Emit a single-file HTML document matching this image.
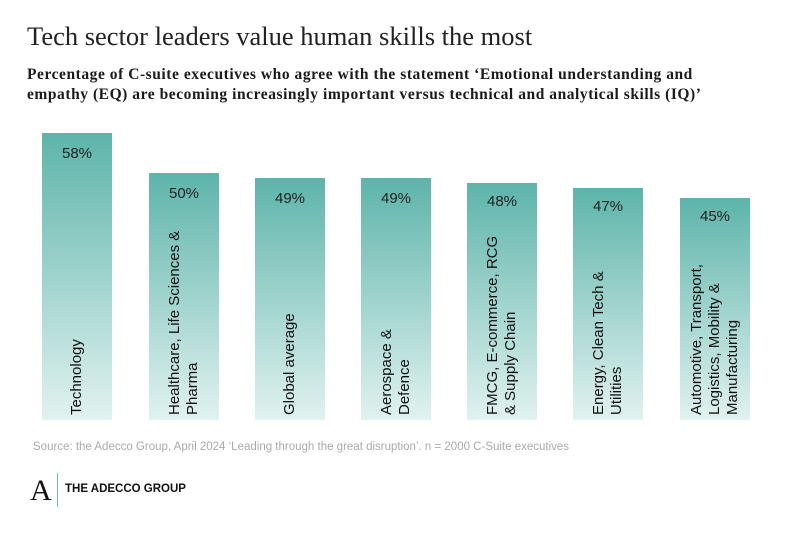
<!DOCTYPE html>
<html><head><meta charset="utf-8"><style>
body{margin:0;width:800px;height:538px;background:#fff;position:relative;overflow:hidden;font-family:"Liberation Sans",sans-serif}
.t{position:absolute;left:27px;top:21px;font-family:"Liberation Serif",serif;font-size:26.5px;color:#222;white-space:nowrap}
.s{position:absolute;left:27px;top:65px;font-family:"Liberation Serif",serif;font-weight:bold;font-size:15.5px;letter-spacing:0.55px;line-height:20px;color:#1a1a1a;white-space:nowrap}
.bar{position:absolute;width:70px;bottom:118px;background:linear-gradient(#5db4aa,#e1f2f0)}
.p{position:absolute;width:70px;text-align:center;font-size:15px;color:#222}
.l{position:absolute;left:0;bottom:6px;transform-origin:0 0;transform:rotate(-90deg);font-size:15px;line-height:18px;color:#111;white-space:nowrap}
.src{position:absolute;left:33px;top:441px;font-size:11.5px;color:#aaa;white-space:nowrap}
</style></head><body>
<div class="t">Tech sector leaders value human skills the most</div>
<div class="s">Percentage of C-suite executives who agree with the statement ‘Emotional understanding and<br>empathy (EQ) are becoming increasingly important versus technical and analytical skills (IQ)’</div>

<div class="bar" style="left:42px;top:133px"><div class="p" style="top:12px">58%</div><div class="l" style="top:282px;left:26px">Technology</div></div>
<div class="bar" style="left:149px;top:173px"><div class="p" style="top:12px">50%</div><div class="l" style="top:242px;left:17px">Healthcare, Life Sciences &amp;<br>Pharma</div></div>
<div class="bar" style="left:255px;top:178px"><div class="p" style="top:12px">49%</div><div class="l" style="top:237px;left:26px">Global average</div></div>
<div class="bar" style="left:361px;top:178px"><div class="p" style="top:12px">49%</div><div class="l" style="top:237px;left:17px">Aerospace &amp;<br>Defence</div></div>
<div class="bar" style="left:467px;top:183px"><div class="p" style="top:10px">48%</div><div class="l" style="top:232px;left:17px">FMCG, E-commerce, RCG<br>&amp; Supply Chain</div></div>
<div class="bar" style="left:573px;top:188px"><div class="p" style="top:10px">47%</div><div class="l" style="top:227px;left:17px">Energy, Clean Tech &amp;<br>Utilities</div></div>
<div class="bar" style="left:680px;top:198px"><div class="p" style="top:10px">45%</div><div class="l" style="top:217px;left:8px">Automotive, Transport,<br>Logistics, Mobility &amp;<br>Manufacturing</div></div>

<div class="src">Source: the Adecco Group, April 2024 ‘Leading through the great disruption’. n = 2000 C-Suite executives</div>
<div style="position:absolute;left:30px;top:474px;font-family:'Liberation Serif',serif;font-size:30px;color:#111">A</div>
<div style="position:absolute;left:57px;top:473px;width:1px;height:34px;background:#6fbdb3"></div>
<div style="position:absolute;left:65px;top:483px;font-size:11.5px;font-weight:bold;color:#111">THE ADECCO GROUP</div>
</body></html>
